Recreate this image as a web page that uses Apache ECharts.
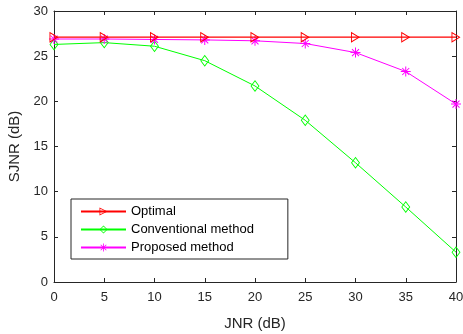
<!DOCTYPE html>
<html>
<head>
<meta charset="utf-8">
<script src="https://cdn.jsdelivr.net/npm/echarts@6/dist/echarts.min.js"></script>
<style>
  html, body { margin: 0; padding: 0; background: #fff; }
  #chart-container { width: 463px; height: 334px; }
</style>
</head>
<body>
<div id="chart-container"></div>
<script>
var jnr = [0, 5, 10, 15, 20, 25, 30, 35, 40];
var optimal = [27.1, 27.1, 27.1, 27.1, 27.1, 27.1, 27.1, 27.1, 27.1];
var conventional = [26.3, 26.5, 26.1, 24.5, 21.7, 17.9, 13.2, 8.3, 3.3];
var proposed = [26.9, 26.9, 26.85, 26.8, 26.7, 26.4, 25.4, 23.3, 19.7];
var names = ['Optimal', 'Conventional method', 'Proposed method'];
var colors = ['#ff0000', '#00ff00', '#ff00ff'];

var chartDom = document.getElementById('chart-container');
var myChart = echarts.init(chartDom);

var axisColor = '#262626';
var font = 'Liberation Sans, Arial, sans-serif';

function pairs(ys) {
  return jnr.map(function (x, i) { return [x, ys[i]]; });
}

// outline markers drawn as filled rings (outer path + reversed inner path)
var triangle = 'path://M0,0 L10,6 L0,12 Z M1,1.9 L1,10.1 L7.9,6 Z';
var diamond = 'path://M5,0 L10,6 L5,12 L0,6 Z M5,1.5 L1.2,6 L5,10.5 L8.8,6 Z';
var star = 'path://M4.5,0 L5.5,0 L5.5,10 L4.5,10 Z M0,4.5 L10,4.5 L10,5.5 L0,5.5 Z ' +
  'M1.85,1.15 L8.85,8.15 L8.15,8.85 L1.15,1.85 Z M8.15,1.15 L8.85,1.85 L1.85,8.85 L1.15,8.15 Z';
var symbols = [triangle, diamond, star];

function axisBase(pos, show) {
  return {
    type: 'value',
    position: pos,
    min: 0,
    interval: 5,
    axisLine: { show: true, onZero: false, lineStyle: { color: axisColor, width: 1 } },
    axisTick: { show: true, inside: true, length: 4, lineStyle: { color: axisColor } },
    axisLabel: { show: show, color: axisColor, fontSize: 13, fontFamily: font },
    splitLine: { show: false }
  };
}

var xBottom = axisBase('bottom', true);
xBottom.max = 40;
xBottom.name = 'JNR (dB)';
xBottom.nameLocation = 'middle';
xBottom.nameGap = 34;
xBottom.nameTextStyle = { color: axisColor, fontSize: 15, fontFamily: font };
xBottom.axisLabel.margin = 9;
var xTop = axisBase('top', false);
xTop.max = 40;

var yLeft = axisBase('left', true);
yLeft.max = 30;
yLeft.name = 'SJNR (dB)';
yLeft.nameLocation = 'middle';
yLeft.nameGap = 26;
yLeft.nameTextStyle = { color: axisColor, fontSize: 15, fontFamily: font };
yLeft.axisLabel.margin = 6;
var yRight = axisBase('right', false);
yRight.max = 30;

option = {
  animation: false,
  backgroundColor: '#fff',
  grid: { left: 54, right: 7, top: 11, bottom: 52, outerBoundsMode: 'none', containLabel: false },
  legend: {
    orient: 'vertical',
    left: 71,
    top: 199,
    padding: [6, 34, 5, 9],
    itemWidth: 45,
    itemHeight: 10,
    itemGap: 5,
    backgroundColor: '#fff',
    borderColor: axisColor,
    borderWidth: 1,
    borderRadius: 0,
    textStyle: { color: '#000', fontSize: 13, fontFamily: font },
    data: names
  },
  xAxis: [xBottom, xTop],
  yAxis: [yLeft, yRight],
  series: names.map(function (n, i) {
    return {
      name: n,
      type: 'line',
      data: pairs([optimal, conventional, proposed][i]),
      symbol: symbols[i],
      symbolSize: [[9, 11], [9, 12], [10, 10]][i],
      lineStyle: { color: colors[i], width: i === 0 ? 1.3 : 1 },
      itemStyle: { color: colors[i] },
      z: i === 0 ? 3 : 2
    };
  })
};

option && myChart.setOption(option);
</script>
</body>
</html>
